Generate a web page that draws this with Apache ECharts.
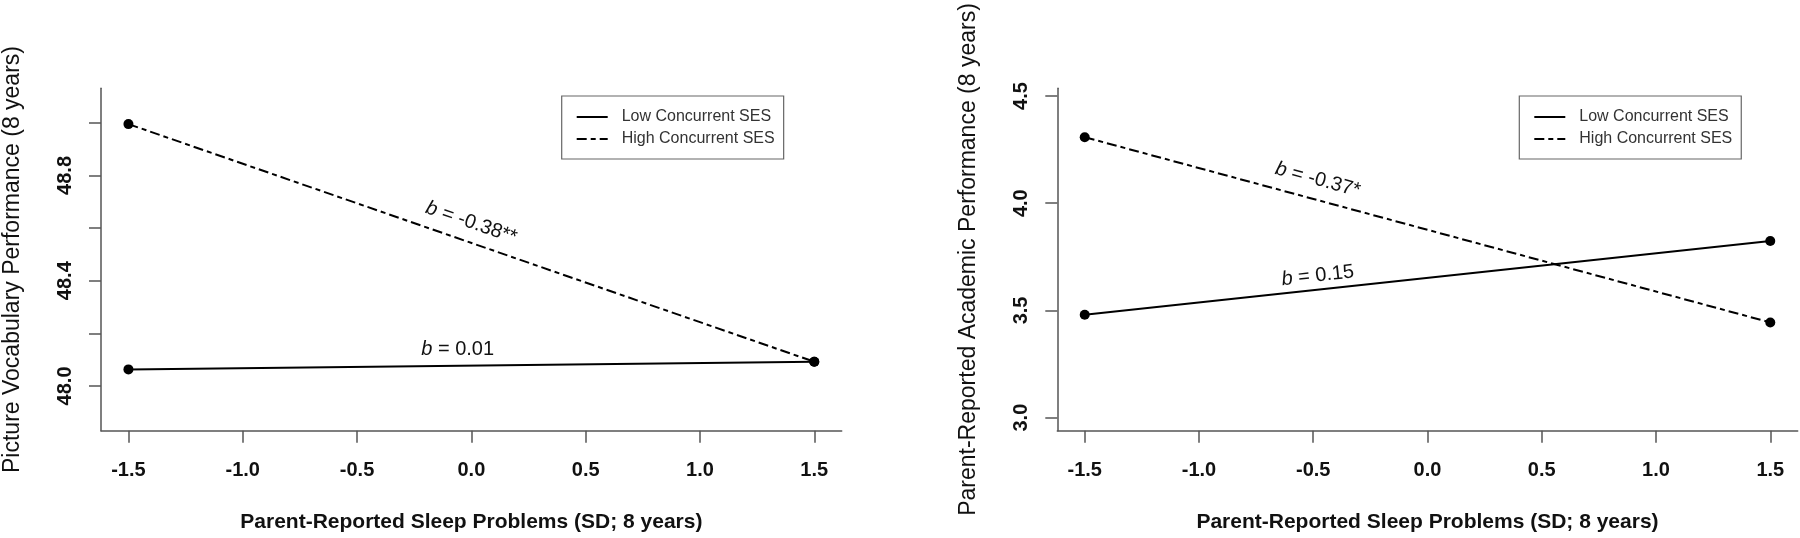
<!DOCTYPE html>
<html>
<head>
<meta charset="utf-8">
<script src="https://cdn.jsdelivr.net/npm/echarts@6/dist/echarts.min.js"></script>
<style>
html,body{margin:0;padding:0;background:#fff;}
#chart{width:1800px;height:538px;}
</style>
</head>
<body>
<div id="chart"></div>
<script>
// ---- data ----
const sleepProblems = [-1.5, 1.5];
const vocabLow = [48.063, 48.092];
const vocabHigh = [48.995, 48.092];
const academicLow = [3.48, 3.824];
const academicHigh = [4.308, 3.444];
const xTicks = [-1.5, -1.0, -0.5, 0.0, 0.5, 1.0, 1.5];
const vocabTicks = [48.0, 48.2, 48.4, 48.6, 48.8, 49.0];
const vocabTickLabels = [48.0, 48.4, 48.8];
const academicTicks = [3.0, 3.5, 4.0, 4.5];
const seriesNames = ['Low Concurrent SES', 'High Concurrent SES'];
const slopes = { vocabLow: '0.01', vocabHigh: '-0.38**', academicLow: '0.15', academicHigh: '-0.37*' };
const xTitle = 'Parent-Reported Sleep Problems (SD; 8 years)';
const yTitles = ['Picture Vocabulary Performance (8 years)', 'Parent-Reported Academic Performance (8 years)'];

// ---- styles ----
const NARROW = "'Liberation Sans Narrow','Arial Narrow','Liberation Sans',Arial,sans-serif";
const SANS = "'Liberation Sans',Arial,sans-serif";
const axisColor = '#555';
const textColor = '#111';

function pairs(ys) { return sleepProblems.map((x, i) => [x, ys[i]]); }

function xAxis(gridIndex) {
  return {
    type: 'value', gridIndex, min: -1.62, max: 1.62,
    name: xTitle, nameLocation: 'middle', nameGap: 81,
    nameTextStyle: { fontFamily: SANS, fontWeight: 'bold', fontSize: 21, color: textColor },
    axisLine: { show: true, onZero: false, lineStyle: { color: axisColor, width: 1.5 } },
    axisTick: { show: true, length: 12, lineStyle: { color: axisColor, width: 1.5 }, customValues: xTicks },
    axisLabel: { margin: 30, fontFamily: SANS, fontWeight: 'bold', fontSize: 20, color: textColor,
      customValues: xTicks, formatter: v => v.toFixed(1) },
    splitLine: { show: false }
  };
}
function yAxis(gridIndex, min, max, ticks, labels, title) {
  return {
    type: 'value', gridIndex, min, max,
    name: title, nameLocation: 'middle', nameGap: 77, nameRotate: 90,
    nameTextStyle: { fontFamily: SANS, fontSize: 23, color: textColor },
    axisLine: { show: true, onZero: false, lineStyle: { color: axisColor, width: 1.5 } },
    axisTick: { show: true, length: 12, lineStyle: { color: axisColor, width: 1.5 }, customValues: ticks },
    axisLabel: { margin: 26, rotate: 90, fontFamily: SANS, fontWeight: 'bold', fontSize: 20, color: textColor,
      customValues: labels, formatter: v => v.toFixed(1) },
    splitLine: { show: false }
  };
}
function slopeLabel(coord, text, rotate) {
  return {
    symbol: 'circle', symbolSize: 0, silent: true,
    data: [{
      coord,
      label: {
        show: true, position: 'inside', rotate,
        formatter: '{i|b}{n| = ' + text + '}',
        rich: {
          i: { fontFamily: NARROW, fontStyle: 'italic', fontSize: 20, color: textColor },
          n: { fontFamily: NARROW, fontSize: 20, color: textColor }
        }
      }
    }]
  };
}
function lineSeries(name, xi, ys, dashed, mark) {
  return {
    type: 'line', name, xAxisIndex: xi, yAxisIndex: xi, data: pairs(ys),
    symbol: 'circle', symbolSize: 10, showSymbol: true,
    itemStyle: { color: '#000' },
    lineStyle: { color: '#000', width: 2, type: dashed ? [10, 4, 5, 4] : 'solid' },
    emphasis: { disabled: true },
    markPoint: mark
  };
}
function legend(left) {
  return {
    left, top: 96, orient: 'vertical', data: seriesNames, selectedMode: false,
    itemWidth: 31, itemHeight: 14, itemGap: 6,
    padding: [13, 9, 12, 14],
    borderColor: '#666', borderWidth: 1.2,
    itemStyle: { opacity: 0 },
    textStyle: { fontFamily: NARROW, fontSize: 16, color: '#333', padding: [0, 0, 0, 9] }
  };
}

const chart = echarts.init(document.getElementById('chart'), null, { renderer: 'canvas' });
chart.setOption({
  animation: false,
  backgroundColor: '#fff',
  grid: [
    { left: 101, right: 958.3, top: 88.3, bottom: 107.3 },
    { left: 1057.3, right: 2.3, top: 88.3, bottom: 107.3 }
  ],
  legend: [legend(561.7), legend(1519.3)],
  xAxis: [xAxis(0), xAxis(1)],
  yAxis: [
    yAxis(0, 47.83, 49.131, vocabTicks, vocabTickLabels, yTitles[0]),
    yAxis(1, 2.939, 4.536, academicTicks, academicTicks, yTitles[1])
  ],
  series: [
    lineSeries(seriesNames[0], 0, vocabLow, false, slopeLabel([-0.06, 48.14], slopes.vocabLow, 0)),
    lineSeries(seriesNames[1], 0, vocabHigh, true, slopeLabel([0.0, 48.62], slopes.vocabHigh, -19.1)),
    lineSeries(seriesNames[0], 1, academicLow, false, slopeLabel([-0.48, 3.662], slopes.academicLow, 6.2)),
    lineSeries(seriesNames[1], 1, academicHigh, true, slopeLabel([-0.48, 4.109], slopes.academicHigh, -15.15))
  ]
});
</script>
</body>
</html>
